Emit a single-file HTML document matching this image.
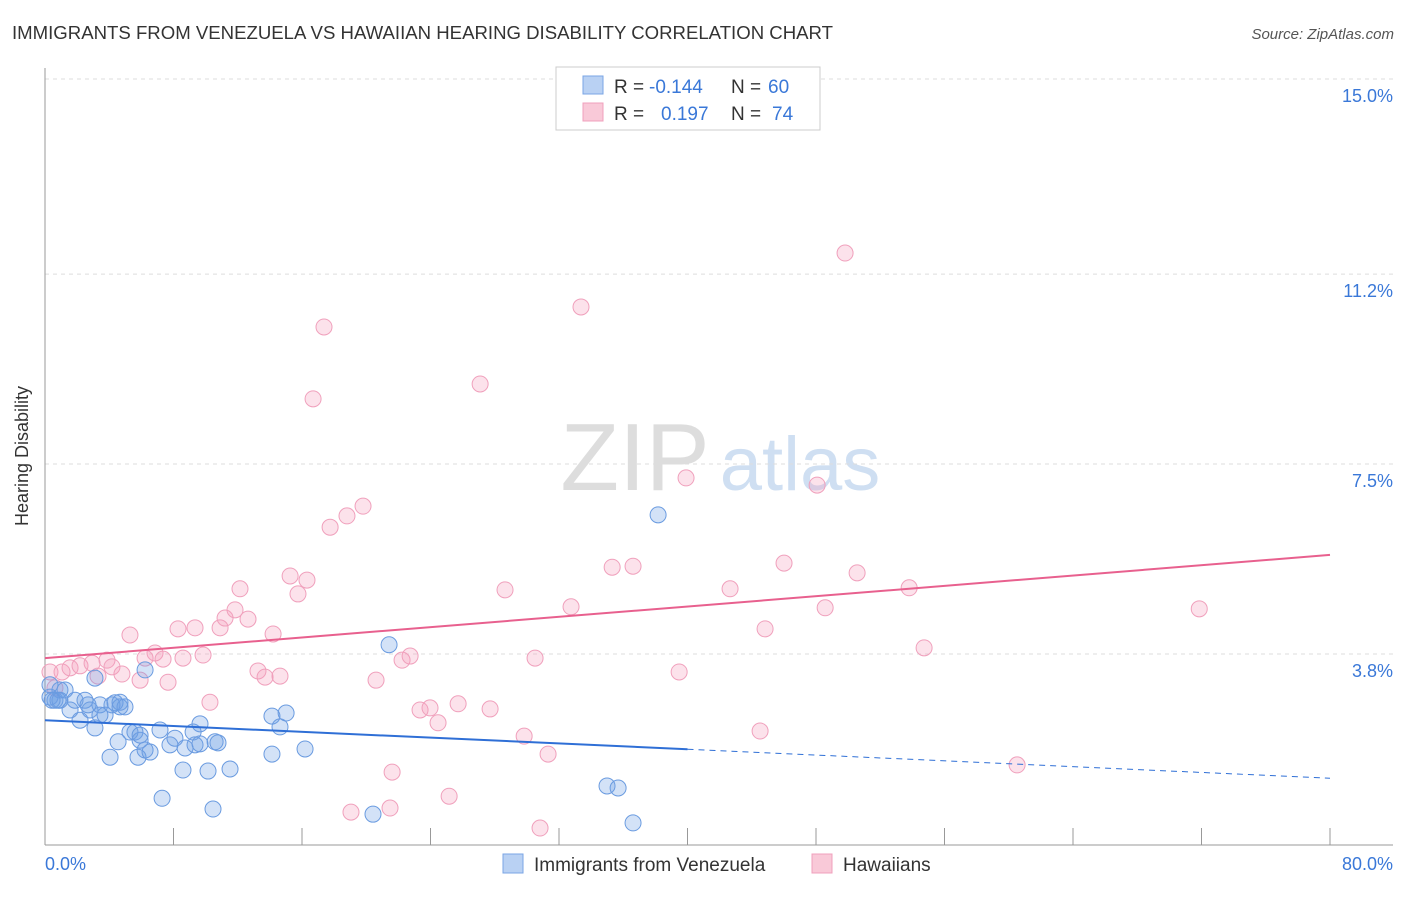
<!DOCTYPE html>
<html><head><meta charset="utf-8"><style>
body{margin:0;background:#fff;font-family:"Liberation Sans",sans-serif;}
svg text{font-family:"Liberation Sans",sans-serif;}
</style></head><body>
<svg id="chart" width="1406" height="892" xmlns="http://www.w3.org/2000/svg">
<text x="12" y="39" font-size="18" fill="#333" textLength="821" lengthAdjust="spacingAndGlyphs">IMMIGRANTS FROM VENEZUELA VS HAWAIIAN HEARING DISABILITY CORRELATION CHART</text>
<text x="1394" y="39" font-size="15" fill="#555" text-anchor="end" font-style="italic">Source: ZipAtlas.com</text>
<text x="28" y="456" font-size="18" fill="#333" text-anchor="middle" transform="rotate(-90 28 456)">Hearing Disability</text>
<g><text x="635" y="490" font-size="96" fill="#ddd" font-family="Liberation Serif" text-anchor="middle">ZIP</text><text x="800" y="490" font-size="76" fill="#cfdff2" text-anchor="middle">atlas</text></g>
<g id="grid"></g><g id="axes"></g><g id="marks"></g>
<g>
<rect x="556" y="67" width="264" height="63" fill="#fff" stroke="#ccc"/>
<rect x="583" y="76" width="20" height="18" fill="#b9d1f3" stroke="#7aa5e5"/>
<rect x="583" y="103" width="20" height="18" fill="#f9c9d8" stroke="#f0a0bc"/>
<text x="614" y="93" font-size="19" fill="#333">R =</text>
<text x="649" y="93" font-size="19" fill="#3a78d8">-0.144</text>
<text x="731" y="93" font-size="19" fill="#333">N =</text>
<text x="768" y="93" font-size="19" fill="#3a78d8">60</text>
<text x="614" y="120" font-size="19" fill="#333">R =</text>
<text x="661" y="120" font-size="19" fill="#3a78d8">0.197</text>
<text x="731" y="120" font-size="19" fill="#333">N =</text>
<text x="772" y="120" font-size="19" fill="#3a78d8">74</text>
</g>
<g>
<rect x="503" y="854" width="20" height="19" fill="#b9d1f3" stroke="#7aa5e5"/>
<text x="534" y="871" font-size="19" fill="#333">Immigrants from Venezuela</text>
<rect x="812" y="854" width="20" height="19" fill="#f9c9d8" stroke="#f0a0bc"/>
<text x="843" y="871" font-size="19" fill="#333">Hawaiians</text>
</g>
</svg>
<script>
const yTicks=[3.8,7.5,11.2,15.0];
const yTickLabels=["3.8%","7.5%","11.2%","15.0%"];
const xTickValues=[0,8,16,24,32,40,48,56,64,72,80];
const xEndLabels=["0.0%","80.0%"];
const blueX=[0.31,0.62,0.93,1.25,0.31,0.81,1.56,1.87,2.18,2.49,2.80,3.11,3.11,3.42,3.74,4.05,4.17,4.36,4.55,4.67,4.98,5.29,5.60,5.79,5.92,6.23,6.23,6.54,7.16,7.29,7.78,8.09,8.59,8.72,9.22,9.34,9.65,9.65,10.15,10.46,10.59,10.77,11.52,14.13,14.13,14.63,15.01,16.19,20.42,21.42,34.99,35.68,36.61,38.17,2.68,4.67,5.92,0.93,0.44,3.42];
const blueY=[2.96,2.90,3.10,3.10,3.20,2.90,2.71,2.90,2.51,2.90,2.71,2.36,3.33,2.81,2.61,1.79,2.81,2.85,2.09,2.77,2.77,2.28,2.28,1.79,2.12,3.49,1.93,1.89,2.32,0.99,2.03,2.16,1.54,1.97,2.28,2.03,2.44,2.05,1.52,0.78,2.09,2.07,1.56,2.59,1.85,2.38,2.65,1.95,0.68,3.98,1.23,1.19,0.51,6.51,2.81,2.86,2.22,2.90,2.90,2.61];
const pinkX=[0.31,0.62,1.06,1.56,2.18,2.93,3.30,3.86,4.17,4.79,5.29,5.92,6.23,6.85,7.35,7.66,8.28,8.59,9.34,9.84,10.27,10.90,11.21,11.83,12.14,12.64,13.26,13.70,14.20,14.63,15.26,15.75,16.31,16.69,17.37,17.75,18.80,19.05,19.80,20.61,21.48,21.61,22.23,22.73,23.35,23.97,24.47,25.16,25.72,27.09,27.71,28.64,29.83,30.51,30.82,31.32,32.75,33.37,35.31,36.61,39.48,39.91,42.65,44.52,44.83,46.01,48.07,48.57,49.81,50.56,53.80,54.73,60.52,71.86];
const pinkY=[3.45,3.14,3.45,3.53,3.57,3.62,3.37,3.68,3.55,3.41,4.17,3.29,3.72,3.82,3.70,3.25,4.29,3.72,4.31,3.78,2.86,4.31,4.50,4.66,5.07,4.48,3.47,3.35,4.19,3.37,5.32,4.97,5.24,8.77,10.17,6.27,6.49,0.72,6.68,3.29,0.80,1.50,3.68,3.76,2.71,2.75,2.46,1.03,2.83,9.06,2.73,5.05,2.20,3.72,0.41,1.85,4.72,10.56,5.49,5.51,3.45,7.23,5.07,2.30,4.29,5.57,7.09,4.70,11.61,5.38,5.09,3.92,1.64,4.68];
const blueTrend=[2.51,1.38];
const pinkTrend=[3.72,5.73];
const blueSolidEnd=40;

const NS="http://www.w3.org/2000/svg";
const X0=45,X1=1330,XMAX=80;
function xs(v){return X0+v*(X1-X0)/XMAX;}
function ys(v){return 654-(v-3.8)*51.34;}
function mk(tag,attrs,parent){const e=document.createElementNS(NS,tag);for(const k in attrs)e.setAttribute(k,attrs[k]);parent.appendChild(e);return e;}
const grid=document.getElementById('grid'),axes=document.getElementById('axes'),marks=document.getElementById('marks');
yTicks.forEach((t,i)=>{
 const l=mk('line',{x1:45,x2:1393,y1:ys(t),y2:ys(t),stroke:'#ddd','stroke-dasharray':'4 4'},grid);
 
 
 const tx=mk('text',{x:1393,y:ys(t)+23,'font-size':18,fill:'#3a78d8','text-anchor':'end'},grid);
 tx.textContent=yTickLabels[i];
 
 
});
const ax=mk('line',{x1:45,x2:1393,y1:845,y2:845,stroke:'#999'},axes);


const ay=mk('line',{x1:45,x2:45,y1:68,y2:845,stroke:'#999'},axes);


xTickValues.forEach(t=>{
 const l=mk('line',{x1:xs(t),x2:xs(t),y1:828,y2:845,stroke:'#999'},axes);
 
 
});
const xl0=mk('text',{x:45,y:870,'font-size':18,fill:'#3a78d8'},axes);xl0.textContent=xEndLabels[0];


const xl1=mk('text',{x:1393,y:870,'font-size':18,fill:'#3a78d8','text-anchor':'end'},axes);xl1.textContent=xEndLabels[1];


function dot(x,y,fill,stroke,name){
 const c=mk('circle',{cx:xs(x),cy:ys(y),r:8,fill:fill,stroke:stroke,'stroke-width':1},marks);
 
 
}
pinkX.forEach((x,i)=>dot(x,pinkY[i],'rgba(244,160,190,0.3)','#f0a0bc','hawaiians-point'));
blueX.forEach((x,i)=>dot(x,blueY[i],'rgba(110,160,230,0.3)','#6a9be0','venezuela-point'));
function ty(tr,x){return tr[0]+(tr[1]-tr[0])*x/XMAX;}
const bl=mk('line',{x1:xs(0),y1:ys(ty(blueTrend,0)),x2:xs(blueSolidEnd),y2:ys(ty(blueTrend,blueSolidEnd)),stroke:'#2f6fd6','stroke-width':2},marks);


const bd=mk('line',{x1:xs(blueSolidEnd),y1:ys(ty(blueTrend,blueSolidEnd)),x2:xs(80),y2:ys(ty(blueTrend,80)),stroke:'#2f6fd6','stroke-width':1,'stroke-dasharray':'6 5'},marks);


const pl=mk('line',{x1:xs(0),y1:ys(ty(pinkTrend,0)),x2:xs(80),y2:ys(ty(pinkTrend,80)),stroke:'#e8608e','stroke-width':2},marks);


</script>
</body></html>
